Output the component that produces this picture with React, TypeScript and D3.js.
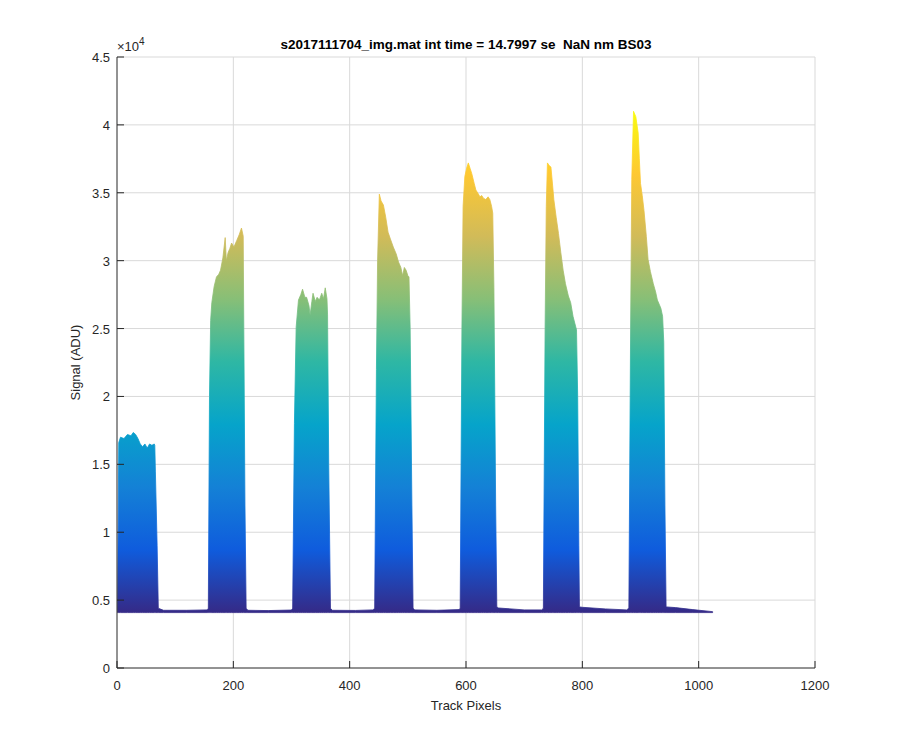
import React from 'react';
import * as d3 from 'd3';

// upper envelope of the overlaid track profiles
const TRACK_X = [
  1, 3, 6, 12, 18, 24, 28, 32, 36, 40, 44, 48, 52, 56, 60, 64, 65, 66, 69, 71,
  80, 120, 155,
  157, 159, 161, 163, 167, 171, 175, 178, 182, 186, 188, 191, 194, 197, 201, 206, 210, 214, 217, 218, 220, 222,
  225, 260, 300,
  302, 305, 308, 312, 316, 319, 323, 326, 330, 332, 335, 337, 341, 344, 348, 352, 355, 358, 361, 362, 364, 367,
  370, 410, 440,
  443, 446, 448, 451, 454, 458, 462, 466, 470, 475, 480, 484, 488, 491, 494, 497, 500, 502, 504, 507, 509,
  512, 550, 588,
  590, 593, 595, 598, 601, 604, 607, 610, 614, 617, 620, 624, 627, 630, 634, 638, 641, 644, 646, 648, 651, 653,
  656, 700, 730,
  733, 736, 738, 740, 743, 746, 749, 751, 755, 759, 763, 767, 771, 776, 780, 784, 787, 790, 792, 794, 795,
  800, 840, 876,
  880, 883, 885, 888, 892, 896, 898, 900, 903, 906, 910, 913, 917, 922, 926, 929, 932, 935, 938, 940, 942, 944,
  960, 990, 1024,
];
const TRACK_Y = [
  4200, 16600, 17000, 16900, 17200, 17100, 17350, 17200, 16900, 16500, 16300, 16500, 16200, 16500, 16400, 16500, 16400, 14500, 9000, 4400,
  4250, 4250, 4280,
  4400, 20000, 25600, 26900, 28100, 28800, 29000, 29300, 30200, 31700, 30000, 30600, 30900, 31300, 31000, 31500, 31900, 32400, 31800, 25000, 12000, 4400,
  4250, 4230, 4270,
  4400, 18000, 25100, 27100, 27500, 27900, 27300, 27300, 26700, 26000, 27000, 27600, 27000, 27300, 27100, 27600, 27200, 28000, 27200, 26000, 15000, 4400,
  4250, 4240, 4280,
  4400, 22000, 30000, 34900, 34400, 34100, 33200, 32100, 31600, 31000, 30500, 29900, 29500, 28900, 29500, 29300, 28900, 28800, 25000, 12000, 4400,
  4280, 4250, 4300,
  4400, 25000, 34000, 36200, 36800, 37200, 36800, 36400, 35700, 35200, 35000, 34700, 34800, 34600, 34500, 34700, 34500, 34000, 33500, 28000, 12000, 4500,
  4420, 4280, 4280,
  4400, 25000, 34000, 37200, 37000, 36900, 35500, 34500, 33200, 32000, 30600, 29300, 28300, 27400, 26900, 25900, 25400, 24900, 20000, 9000, 4500,
  4470, 4350, 4280,
  4400, 25000, 36000, 41000, 40600, 39400, 37500, 35700, 34800, 33700, 31800, 30100, 29200, 28300, 27700, 27100, 26800, 26500, 25900, 24000, 12000, 4500,
  4450, 4300, 4150,
];
const FLOOR = 4080;

const X_TICKS = [0, 200, 400, 600, 800, 1000, 1200];
const Y_TICKS = [0, 0.5, 1, 1.5, 2, 2.5, 3, 3.5, 4, 4.5];

// parula
const PARULA = ['#352A87', '#0F5CDD', '#1481D6', '#06A4CA', '#2EB7A4', '#87BF77', '#D1BB59', '#FEC832', '#F9FB0E'];
const C_MIN = 4100;
const C_MAX = 41000;

const TITLE = 's2017111704_img.mat int time = 14.7997 se  NaN nm BS03';

const W = 900;
const H = 750;
const M = { left: 117, right: 85, top: 57, bottom: 82 };

export default function App() {
  const x = d3.scaleLinear().domain([0, 1200]).range([M.left, W - M.right]);
  const y = d3.scaleLinear().domain([0, 45000]).range([H - M.bottom, M.top]);
  const pts = TRACK_X.map((v, i) => [v, TRACK_Y[i]] as [number, number]);
  const area = d3
    .area<[number, number]>()
    .x((d) => x(d[0]))
    .y0(() => y(FLOOR))
    .y1((d) => y(d[1]));

  const font = 'Liberation Sans, Arial, Helvetica, sans-serif';
  const axisColor = '#262626';
  const x0 = x(0);
  const yb = y(0);

  return (
    <svg
      width={W}
      height={H}
      style={{ position: 'absolute', left: 0, top: 0, background: '#fff' }}
      fontFamily={font}
    >
      <defs>
        <linearGradient id="parula" gradientUnits="userSpaceOnUse" x1={0} x2={0} y1={y(C_MIN)} y2={y(C_MAX)}>
          {PARULA.map((c, i) => (
            <stop key={i} offset={i / (PARULA.length - 1)} stopColor={c} />
          ))}
        </linearGradient>
      </defs>

      {/* grid */}
      <g stroke="#d9d9d9" strokeWidth={1}>
        {X_TICKS.filter((t) => t > 0).map((t) => (
          <line key={t} x1={x(t)} x2={x(t)} y1={y(45000)} y2={yb} />
        ))}
        {Y_TICKS.filter((t) => t > 0).map((t) => (
          <line key={t} x1={x0} x2={x(1200)} y1={y(t * 1e4)} y2={y(t * 1e4)} />
        ))}
      </g>

      <path d={area(pts) ?? ''} fill="url(#parula)" stroke="url(#parula)" strokeWidth={0.8} />

      {/* axes */}
      <g stroke={axisColor} strokeWidth={1} fill="none">
        <line x1={x0} x2={x0} y1={y(45000)} y2={yb} />
        <line x1={x0} x2={x(1200)} y1={yb} y2={yb} />
        {X_TICKS.map((t) => (
          <line key={t} x1={x(t)} x2={x(t)} y1={yb} y2={yb - 7} />
        ))}
        {Y_TICKS.map((t) => (
          <line key={t} x1={x0} x2={x0 + 7} y1={y(t * 1e4)} y2={y(t * 1e4)} />
        ))}
      </g>

      <g fill={axisColor} fontSize={13}>
        {X_TICKS.map((t) => (
          <text key={t} x={x(t)} y={yb + 22} textAnchor="middle">
            {t}
          </text>
        ))}
        {Y_TICKS.map((t) => (
          <text key={t} x={x0 - 7} y={y(t * 1e4) + 5} textAnchor="end">
            {t}
          </text>
        ))}
        <text x={x0} y={M.top - 6} fontSize={13}>
          ×10<tspan fontSize={10} dy={-6}>4</tspan>
        </text>
        <text x={(x0 + x(1200)) / 2} y={yb + 42} textAnchor="middle">
          Track Pixels
        </text>
        <text transform={`translate(${x0 - 37},${(yb + y(45000)) / 2}) rotate(-90)`} textAnchor="middle">
          Signal (ADU)
        </text>
        <text
          x={(x0 + x(1200)) / 2}
          y={M.top - 8}
          textAnchor="middle"
          fontWeight="bold"
          fontSize={13.5}
          fill="#000"
          style={{ whiteSpace: 'pre' }}
        >
          {TITLE}
        </text>
      </g>
    </svg>
  );
}
